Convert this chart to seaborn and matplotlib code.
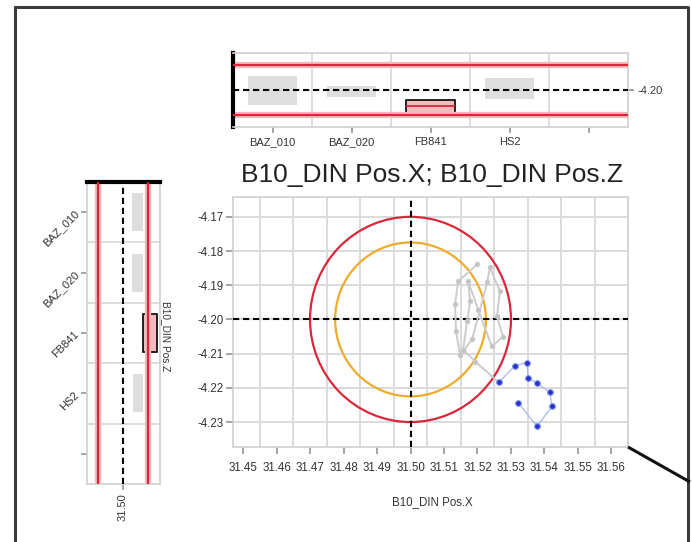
import numpy as np
import pandas as pd
import matplotlib
matplotlib.use("Agg")
import matplotlib.pyplot as plt
from matplotlib.patches import Circle
from matplotlib.lines import Line2D
import seaborn as sns

# ---------------- data ----------------
nominal_x = 31.50
nominal_z = -4.20
limit_radius = 0.03
warn_radius = 0.0225

# earlier measurements (grey trail)
history_x = [31.5199, 31.5142, 31.5133, 31.5136, 31.5148, 31.5184, 31.5229, 31.5237,
             31.5267, 31.5258, 31.5276, 31.5243, 31.5202, 31.5172, 31.5178, 31.5169,
             31.5157, 31.5193, 31.5264]
history_z = [-4.1839, -4.1889, -4.1956, -4.2035, -4.2105, -4.2058, -4.1892, -4.1848,
             -4.1918, -4.1991, -4.2050, -4.2079, -4.1971, -4.1889, -4.1947, -4.2006,
             -4.2088, -4.2123, -4.2184]

# current part FB841 (blue)
current_x = [31.5264, 31.5312, 31.5348, 31.5351, 31.5378, 31.5416, 31.5422, 31.5378, 31.5321]
current_z = [-4.2184, -4.2135, -4.2126, -4.2170, -4.2187, -4.2213, -4.2254, -4.2313, -4.2243]

parts = ["BAZ_010", "BAZ_020", "FB841", "HS2", ""]
selected_part = "FB841"
z_low = [-4.2180, -4.2084, -4.2300, -4.2108, np.nan]
z_high = [-4.1832, -4.1952, -4.2120, -4.1856, np.nan]
z_median_selected = -4.2192
x_low = [31.5108, 31.5108, 31.5240, 31.5120, np.nan]
x_high = [31.5240, 31.5240, 31.5408, 31.5240, np.nan]

x_ticks = [31.45, 31.46, 31.47, 31.48, 31.49, 31.50, 31.51, 31.52, 31.53, 31.54, 31.55, 31.56]
z_ticks = [-4.17, -4.18, -4.19, -4.20, -4.21, -4.22, -4.23]
x_grid = [31.455, 31.465, 31.475, 31.485, 31.495, 31.505, 31.515, 31.525, 31.535, 31.545, 31.555]

# ---------------- style ----------------
sns.set_theme(style="white")
plt.rcParams["font.family"] = ["Liberation Sans", "DejaVu Sans"]

W, H = 692, 542
fig = plt.figure(figsize=(W / 100, H / 100), dpi=100)


def box(l, t, r, b):
    return [l / W, 1 - b / H, (r - l) / W, (b - t) / H]


RED = "#d9283a"
PINK = "#f6b9bd"
ORANGE = "#efac2a"
GRID = "#dadada"
SPINE = "#cfcfcf"
TXT = "#333333"
BOXGREY = "#dedede"
DASH = (0, (3, 1.8))


def limit_line(ax, value, orient):
    f = ax.axhline if orient == "h" else ax.axvline
    f(value, color=PINK, lw=4.5, zorder=2)
    f(value, color=RED, lw=1.6, zorder=3)


# ---------------- main scatter ----------------
ax = fig.add_axes(box(233, 197, 628, 447))
ax.set_xlim(31.44701, 31.56493)
ax.set_ylim(-4.2373, -4.1642)
ax.set_xticks(x_ticks)
ax.set_xticklabels([f"{v:.2f}" for v in x_ticks])
ax.set_xticks(x_grid, minor=True)
ax.set_yticks(z_ticks)
ax.set_yticklabels([f"{v:.2f}" for v in z_ticks])
ax.grid(axis="y", which="major", color=GRID, lw=1.4, zorder=0)
ax.grid(axis="x", which="minor", color=GRID, lw=1.4, zorder=0)
ax.grid(axis="x", which="major", visible=False)
ax.set_axisbelow(True)
for s in ax.spines.values():
    s.set_color(SPINE)
    s.set_linewidth(1.2)
ax.tick_params(axis="both", which="major", length=5, color="#999999",
               labelsize=8.3, labelcolor=TXT, pad=2, direction="out",
               bottom=True, left=True)
ax.tick_params(axis="x", which="minor", length=0)
ax.tick_params(axis="x", pad=6)

ax.add_patch(Circle((nominal_x, nominal_z), limit_radius, fill=False,
                    ec=RED, lw=1.6, zorder=3))
ax.add_patch(Circle((nominal_x, nominal_z), warn_radius, fill=False,
                    ec=ORANGE, lw=1.6, zorder=3))
ax.axvline(nominal_x, color="black", lw=1.5, ls=DASH, zorder=4)
ax.axhline(nominal_z, color="black", lw=1.5, ls=DASH, zorder=4)

hist = pd.DataFrame({"x": history_x, "z": history_z})
cur = pd.DataFrame({"x": current_x, "z": current_z})
sns.lineplot(data=hist, x="x", y="z", sort=False, estimator=None, ax=ax,
             color="#cccccc", lw=1.4, zorder=5)
sns.scatterplot(data=hist, x="x", y="z", ax=ax, color="#c4c4c4", s=13,
                edgecolor="#cfcfcf", linewidth=0.4, zorder=6)
sns.lineplot(data=cur, x="x", y="z", sort=False, estimator=None, ax=ax,
             color="#a6b8f0", lw=0.9, zorder=7)
sns.scatterplot(data=cur, x="x", y="z", ax=ax, color="#2233cc", s=17,
                edgecolor="#8595e6", linewidth=0.8, zorder=8)
ax.set_xlabel("")
ax.set_ylabel("")

fig.text(432 / W, 1 - 175 / H, "B10_DIN Pos.X; B10_DIN Pos.Z", ha="center",
         va="center", fontsize=19, color="#222222")
fig.text(432 / W, 1 - 502 / H, "B10_DIN Pos.X", ha="center", va="center",
         fontsize=8.3, color=TXT)

# ---------------- top panel: Z by part ----------------
axt = fig.add_axes(box(233, 53, 628, 127))
axt.set_xlim(-0.5, 4.5)
axt.set_ylim(-4.2444, -4.1556)
pos = np.arange(len(parts))
for xv in pos[:-1] + 0.5:
    axt.axvline(xv, color=GRID, lw=1.3, zorder=0)
bar_colors = [PINK if p == selected_part else BOXGREY for p in parts]
bar_edges = ["black" if p == selected_part else "none" for p in parts]
axt.bar(pos, np.array(z_high) - np.array(z_low), bottom=z_low, width=0.62,
        color=bar_colors, edgecolor=bar_edges, linewidth=1.2, zorder=1)
sel = parts.index(selected_part)
axt.hlines(z_median_selected, sel - 0.31, sel + 0.31, color=RED, lw=1.3, zorder=4)
limit_line(axt, nominal_z + limit_radius, "h")
limit_line(axt, nominal_z - limit_radius, "h")
axt.axhline(nominal_z, color="black", lw=1.5, ls=DASH, zorder=4)
axt.set_xticks(pos)
axt.set_xticklabels(parts)
axt.yaxis.tick_right()
axt.set_yticks([nominal_z])
axt.set_yticklabels([f"{nominal_z:.2f}"])
axt.tick_params(axis="both", length=4, color="#999999", labelsize=8,
                labelcolor=TXT, pad=3, bottom=True, right=True, left=False)
for s in axt.spines.values():
    s.set_color(SPINE)
    s.set_linewidth(1.2)
axt.spines["left"].set_color("black")
axt.spines["left"].set_linewidth(3)

# ---------------- left panel: X by part ----------------
axl = fig.add_axes(box(87, 182, 160, 484))
axl.set_ylim(4.5, -0.5)
axl.set_xlim(31.4568, 31.5444)
for yv in pos[:-1] + 0.5:
    axl.axhline(yv, color=GRID, lw=1.3, zorder=0)
axl.barh(pos, np.array(x_high) - np.array(x_low), left=x_low, height=0.63,
         color=bar_colors, edgecolor=bar_edges, linewidth=1.2, zorder=1)
limit_line(axl, nominal_x - limit_radius, "v")
limit_line(axl, nominal_x + limit_radius, "v")
axl.axvline(nominal_x, color="black", lw=1.5, ls=DASH, zorder=4)
axl.set_yticks(pos)
axl.set_yticklabels(parts, rotation=45, rotation_mode="anchor", ha="right", va="center")
axl.set_xticks([nominal_x])
axl.set_xticklabels([f"{nominal_x:.2f}"], rotation=90)
axl.tick_params(axis="both", length=4, color="#999999", labelsize=8,
                labelcolor=TXT, pad=3, bottom=True, left=True)
for s in axl.spines.values():
    s.set_color(SPINE)
    s.set_linewidth(1.2)
axl.spines["top"].set_color("black")
axl.spines["top"].set_linewidth(3)
fig.text(166 / W, 1 - 336 / H, "B10_DIN Pos.Z", rotation=-90, ha="center",
         va="center", fontsize=7.3, color=TXT)

# ---------------- window frame ----------------
def frame_line(x0, y0, x1, y1, lw=2.2, color="#3a3a3a"):
    fig.add_artist(Line2D([x0 / W, x1 / W], [1 - y0 / H, 1 - y1 / H],
                          transform=fig.transFigure, color=color, lw=lw,
                          solid_capstyle="butt"))


frame_line(14, 6.5, 688, 6.5)
frame_line(15, 6, 15, 542)
frame_line(687.5, 6, 687.5, 542)
frame_line(628, 447, 690, 482, lw=2.2, color="#111111")

fig.savefig("out.png", dpi=100)
